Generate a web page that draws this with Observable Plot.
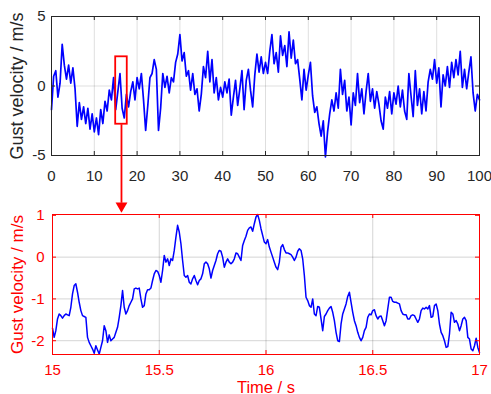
<!DOCTYPE html>
<html><head><meta charset="utf-8">
<script src="https://cdn.jsdelivr.net/npm/d3@7"></script>
<script src="https://cdn.jsdelivr.net/npm/@observablehq/plot@0.6"></script>
<style>
body{margin:0;background:#fff}
#wrap{position:relative;width:491px;height:394px}
#wrap svg{position:absolute;left:0;top:0}
</style>
</head><body><div id="wrap"></div>
<script>
// ---- data ----
const topStep = 0.5; // s between samples of the overview series
const topValues = [
-1.7,0.7,1.1,-0.8,0.2,3.0,1.5,0.5,1.5,0.2,
1.3,-0.2,-2.9,-1.2,-2.4,-1.5,-2.7,-1.6,-3.1,-2.0,
-3.3,-2.3,-3.5,-1.7,-2.7,-1.1,-1.8,-0.3,-1.0,0.6,
-1.7,-0.4,0.9,-1.6,-2.3,-0.6,-1.5,-0.4,0.3,-1.0,
0.6,-0.2,0.9,-1.0,-3.2,-1.4,0.6,0.9,1.9,1.2,
-3.2,-1.6,0.9,-0.1,0.7,-0.5,0.6,0.3,1.7,2.3,
3.7,1.8,2.4,0.7,1.1,-0.3,0.9,-0.6,-0.2,-1.8,
-0.6,1.4,0.6,2.5,0.3,1.9,-0.5,0.6,-1.0,-0.1,
-0.8,0.3,-0.5,0.5,-2.1,-0.8,0.4,-1.4,-0.2,1.1,
-1.7,0.4,1.2,-0.3,-1.5,0.8,2.3,1.0,2.1,0.9,
1.7,0.9,2.5,3.7,1.6,2.4,1.0,3.6,2.2,2.9,
1.4,3.9,2.0,3.3,1.6,1.9,0.5,-1.0,1.2,-0.3,
0.8,1.7,-0.7,-1.9,-1.5,-2.7,-3.6,-2.5,-5.1,-3.3,
-2.0,-1.0,-1.8,-0.5,-1.6,1.2,-0.6,0.4,-1.8,-0.8,
-2.8,-0.5,-1.4,0.9,-1.2,-0.2,-2.0,-0.4,0.9,-1.1,
-0.2,-1.6,-0.4,-1.3,-2.5,-3.1,-0.8,-1.6,-0.4,-2.0,
-0.5,-1.3,0.0,-1.5,-0.3,-1.8,-2.4,0.9,-0.7,-2.2,
1.1,-1.4,-0.2,-2.0,-0.4,-1.8,0.3,1.2,0.5,1.9,
0.2,1.3,-1.5,0.8,0.0,1.4,-0.1,1.7,0.6,1.9,
0.8,2.5,-0.1,1.2,-0.2,1.0,2.1,-0.5,-1.8,-0.6,
-1.0
];
const zoomStart = 15;      // s
const zoomStep = 1 / 128;  // s between samples of the zoomed series
const zoomValues = [
-1.70,-1.92,-1.76,-1.48,-1.36,-1.40,-1.46,-1.40,-1.36,-1.38,
-1.40,-1.20,-0.88,-0.68,-0.64,-0.84,-1.08,-1.28,-1.40,-1.42,
-1.44,-1.92,-2.04,-2.12,-2.20,-2.30,-2.12,-2.22,-2.32,-2.16,
-2.00,-1.64,-1.76,-2.04,-1.86,-2.00,-1.96,-1.92,-1.80,-1.68,
-1.44,-1.16,-0.80,-1.20,-1.36,-1.28,-1.16,-1.08,-1.00,-0.76,
-0.74,-0.76,-0.74,-1.00,-1.20,-1.16,-0.88,-0.78,-0.78,-0.74,
-0.56,-0.40,-0.32,-0.34,-0.44,-0.60,-0.32,0.04,-0.12,-0.04,
-0.20,-0.04,-0.08,0.16,0.48,0.76,0.60,0.32,-0.08,-0.44,
-0.48,-0.44,-0.60,-0.64,-0.52,-0.44,-0.56,-0.66,-0.56,-0.52,
-0.40,-0.16,-0.12,-0.16,-0.28,-0.50,-0.32,-0.20,-0.08,0.08,
0.16,0.14,0.00,-0.24,-0.12,-0.04,-0.12,-0.16,-0.12,-0.04,
0.10,0.08,0.00,-0.08,0.28,0.40,0.50,0.64,0.70,0.72,
0.62,0.80,0.96,1.02,0.88,0.68,0.52,0.36,0.32,0.42,
0.24,0.12,0.00,-0.12,-0.24,-0.30,-0.12,0.24,0.30,0.18,
0.10,0.10,0.08,0.06,0.00,-0.08,0.00,0.14,0.20,0.16,
-0.04,-0.44,-0.96,-1.04,-1.16,-1.20,-1.00,-1.36,-1.40,-1.18,
-1.20,-1.48,-1.76,-1.42,-1.36,-1.28,-1.22,-1.18,-1.32,-1.52,
-1.80,-2.00,-2.02,-1.60,-1.36,-1.24,-1.12,-0.94,-0.84,-1.08,
-1.32,-1.52,-1.64,-1.80,-1.92,-2.00,-1.92,-1.76,-1.68,-1.44,
-1.36,-1.38,-1.28,-1.26,-1.40,-1.48,-1.42,-1.41,-1.52,-1.64,
-1.52,-1.24,-0.96,-0.96,-1.06,-1.08,-1.08,-1.10,-1.12,-1.28,
-1.36,-1.38,-1.38,-1.48,-1.48,-1.40,-1.38,-1.40,-1.48,-1.56,
-1.48,-1.28,-1.22,-1.24,-1.20,-1.24,-1.16,-1.44,-1.42,-1.16,
-1.12,-1.28,-1.60,-1.80,-1.88,-2.00,-2.16,-2.14,-1.84,-1.32,
-1.36,-1.56,-1.52,-1.60,-1.76,-1.64,-1.48,-1.44,-1.52,-1.92,
-1.96,-2.20,-2.24,-2.12,-1.94,-2.16,-2.28
];
const topXTicks = [0,10,20,30,40,50,60,70,80,90,100];
const topYTicks = [-5,0,5];
const zoomXTicks = [15,15.5,16,16.5,17];
const zoomYTicks = [-2,-1,0,1];
const topXDomain = [0,100], topYDomain = [-5,5];
const zoomXDomain = [15,17], zoomYDomain = [-2.33,1.02];
const boxX = [15, 17.7];
const boxY = [-2.75, 2.1];
const arrowShaftEnd = -8.4;   // in overview y units (below its frame)
const arrowHeadAt = -8.63;
const yLabel = "Gust velocity / m/s";
const xLabel = "Time / s";

// ---- tables ----
const topData = topValues.map((v, i) => ({t: i * topStep, v}));
const zoomData = zoomValues.map((v, i) => ({t: zoomStart + i * zoomStep, v}));

const W = 491, H = 394;
const font = "'Liberation Sans', Arial, Helvetica, sans-serif";
const fmt = d => String(d);
const wrap = document.getElementById("wrap");

// ---- overview chart ----
const t = {left: 51, right: 12, top: 16, bottom: 239};
const tW = W - t.left - t.right, tH = H - t.top - t.bottom;
const dark = "#262626";
const boxMid = (boxX[0] + boxX[1]) / 2;
const topChart = Plot.plot({
  width: W, height: H,
  marginLeft: t.left, marginRight: t.right, marginTop: t.top, marginBottom: t.bottom,
  style: {fontFamily: font, color: dark, background: "white", overflow: "visible"},
  x: {domain: topXDomain, label: null},
  y: {domain: topYDomain, label: null},
  marks: [
    Plot.gridX(topXTicks.slice(1, -1), {stroke: "#000", strokeOpacity: 0.13}),
    Plot.gridY([0], {stroke: "#000", strokeOpacity: 0.13}),
    Plot.line(topData, {x: "t", y: "v", stroke: "#0000ff", strokeWidth: 1.7}),
    Plot.frame({stroke: dark, strokeWidth: 1}),
    Plot.tickX(topXTicks, {x: d => d, insetTop: tH - 4, stroke: dark}),
    Plot.tickX(topXTicks, {x: d => d, insetBottom: tH - 4, stroke: dark}),
    Plot.tickY(topYTicks, {y: d => d, insetRight: tW - 4, stroke: dark}),
    Plot.tickY(topYTicks, {y: d => d, insetLeft: tW - 4, stroke: dark}),
    Plot.axisX(topXTicks, {tickSize: 0, tickPadding: 15, fontSize: 15, tickFormat: fmt, label: null}),
    Plot.axisY(topYTicks, {tickSize: 0, tickPadding: 6, fontSize: 15, tickFormat: fmt, label: null}),
    Plot.text([yLabel], {text: d => d, frameAnchor: "left", textAnchor: "middle", lineAnchor: "middle",
      rotate: -90, dx: -34, fontSize: 18, fill: dark}),
    Plot.rect([{x1: boxX[0], x2: boxX[1], y1: boxY[0], y2: boxY[1]}],
      {x1: "x1", x2: "x2", y1: "y1", y2: "y2", fill: "none", stroke: "red", strokeWidth: 1.8}),
    Plot.link([{x: boxMid, y1: boxY[0], y2: arrowShaftEnd}],
      {x1: "x", x2: "x", y1: "y1", y2: "y2", stroke: "red", strokeWidth: 1.8}),
    Plot.dot([{x: boxMid, y: arrowHeadAt}],
      {x: "x", y: "y", symbol: "triangle", r: 4.4, fill: "red", stroke: "none", rotate: 180})
  ]
});
wrap.appendChild(topChart);

// ---- zoomed chart ----
const z = {left: 52, right: 12, top: 214, bottom: 40};
const zW = W - z.left - z.right, zH = H - z.top - z.bottom;
const red = "#ff0000";
const zoomChart = Plot.plot({
  width: W, height: H,
  marginLeft: z.left, marginRight: z.right, marginTop: z.top, marginBottom: z.bottom,
  style: {fontFamily: font, color: red, background: "transparent", overflow: "visible"},
  x: {domain: zoomXDomain, label: null},
  y: {domain: zoomYDomain, label: null},
  marks: [
    Plot.gridX(zoomXTicks.slice(1, -1), {stroke: "#000", strokeOpacity: 0.17}),
    Plot.gridY(zoomYTicks.slice(0, -1), {stroke: "#000", strokeOpacity: 0.17}),
    Plot.line(zoomData, {x: "t", y: "v", stroke: "#0000ff", strokeWidth: 1.5}),
    Plot.frame({stroke: red, strokeWidth: 1}),
    Plot.tickX(zoomXTicks, {x: d => d, insetTop: zH - 4, stroke: red}),
    Plot.tickX(zoomXTicks, {x: d => d, insetBottom: zH - 4, stroke: red}),
    Plot.tickY(zoomYTicks, {y: d => d, insetRight: zW - 4, stroke: red}),
    Plot.tickY(zoomYTicks, {y: d => d, insetLeft: zW - 4, stroke: red}),
    Plot.axisX(zoomXTicks, {tickSize: 0, tickPadding: 10, fontSize: 15, tickFormat: fmt, label: null}),
    Plot.axisY(zoomYTicks, {tickSize: 0, tickPadding: 8, fontSize: 15, tickFormat: fmt, label: null}),
    Plot.text([yLabel], {text: d => d, frameAnchor: "left", textAnchor: "middle", lineAnchor: "middle",
      rotate: -90, dx: -35, fontSize: 17, fill: red}),
    Plot.text([xLabel], {text: d => d, frameAnchor: "bottom", textAnchor: "middle", lineAnchor: "bottom",
      dy: 38, fontSize: 16.5, fill: red})
  ]
});
wrap.appendChild(zoomChart);
</script>
</body></html>
